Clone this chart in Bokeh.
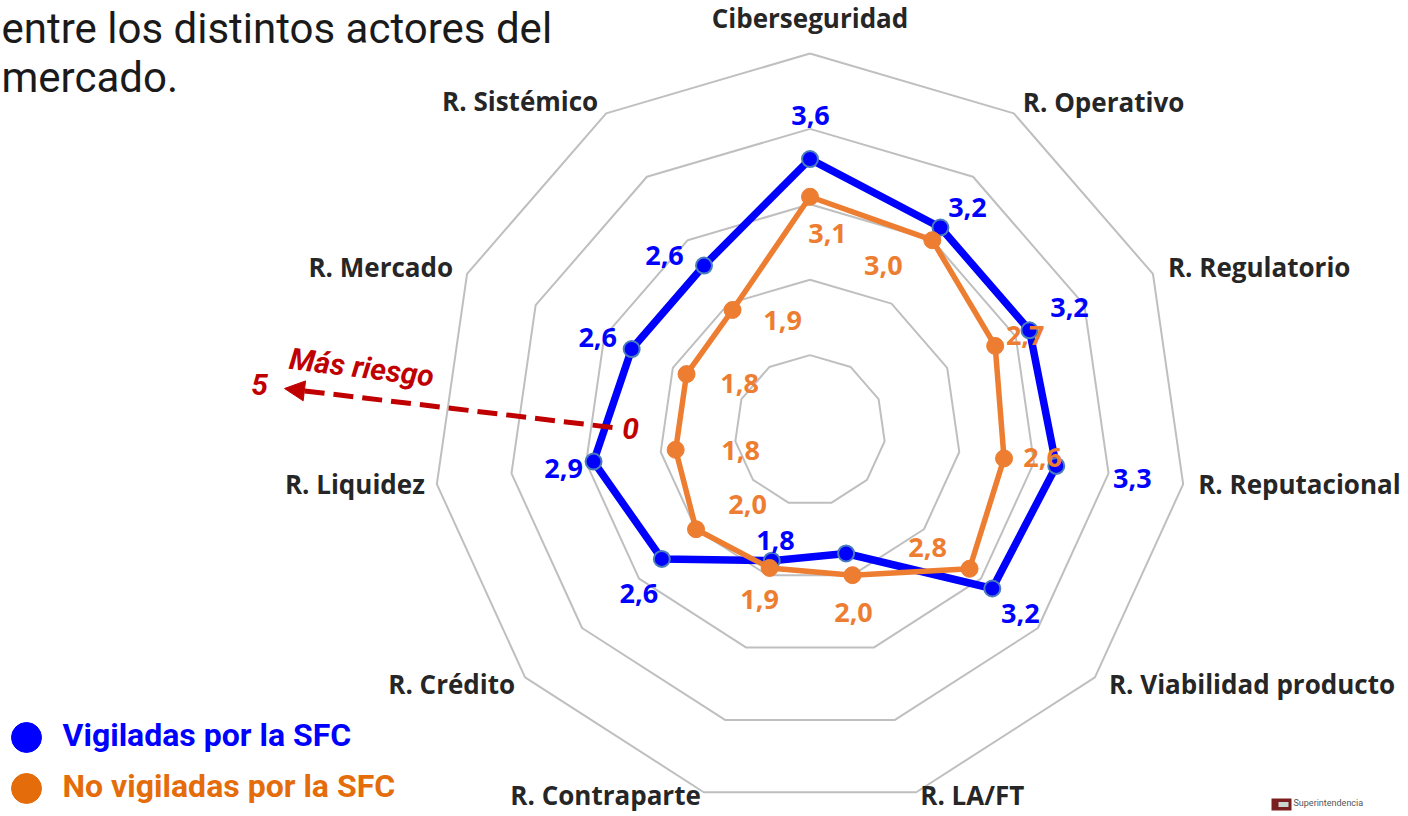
import math
from bokeh.plotting import figure
from bokeh.models import Range1d, ColumnDataSource, Arrow, NormalHead
from bokeh.core.properties import value
from bokeh.embed import file_html
from bokeh.resources import INLINE

# ---------------- data ----------------
categories = ["Ciberseguridad", "R. Operativo", "R. Regulatorio", "R. Reputacional",
              "R. Viabilidad producto", "R. LA/FT", "R. Contraparte", "R. Crédito",
              "R. Liquidez", "R. Mercado", "R. Sistémico"]
vigiladas = [3.6, 3.2, 3.2, 3.3, 3.2, 1.7, 1.8, 2.6, 2.9, 2.6, 2.6]
no_vigiladas = [3.1, 3.0, 2.7, 2.6, 2.8, 2.0, 1.9, 2.0, 1.8, 1.8, 1.9]
vigiladas_label_shown = [True, True, True, True, True, False, True, True, True, True, True]
ring_levels = [1, 2, 3, 4, 5]
series_names = ["Vigiladas por la SFC", "No vigiladas por la SFC"]
axis_min, axis_max = "0", "5"

# ---------------- layout / style ----------------
W, H = 1408, 816
CX, CY = 809.5, 430.0      # page px of radar centre
S = 75.4                   # px per unit
BASE_FIX = 0.37            # baseline compensation (em) for the svg text renderer

def X(px):
    return (px - CX) / S

def Y(py):
    return (CY - py) / S

def YT(py, fs):
    """data y for a text whose visual baseline should sit at page py"""
    return Y(py - BASE_FIX * fs)

BLUE = "#0000FF"
ORANGE = "#ED7D31"
ORANGE_LEG = "#E46C0A"
RED = "#C00000"
GRID = "#BFBFBF"
TXT = "#262626"

n = len(categories)
ang = [2 * math.pi * k / n for k in range(n)]

def pol(vals):
    xs = [v * math.sin(a) for v, a in zip(vals, ang)]
    ys = [v * math.cos(a) for v, a in zip(vals, ang)]
    return xs, ys

fmt = lambda v: f"{v:.1f}".replace(".", ",")

p = figure(width=W, height=H, x_range=Range1d(X(0), X(W)), y_range=Range1d(Y(H), Y(0)),
           output_backend="svg", toolbar_location=None, x_axis_type=None, y_axis_type=None,
           min_border=0, outline_line_color=None, background_fill_color="white",
           border_fill_color="white")
p.grid.visible = False

# grid rings
rx, ry = [], []
for lv in ring_levels:
    xs, ys = pol([lv] * n)
    rx.append(xs + [xs[0]])
    ry.append(ys + [ys[0]])
p.multi_line(rx, ry, line_color=GRID, line_width=2)

# series
bx, by = pol(vigiladas)
ox, oy = pol(no_vigiladas)
p.line(bx + [bx[0]], by + [by[0]], line_color=BLUE, line_width=7.5, line_join="round")
p.scatter(bx, by, size=16, fill_color=BLUE, line_color="#4A7EBB", line_width=2)
p.line(ox + [ox[0]], oy + [oy[0]], line_color=ORANGE, line_width=5.5, line_join="round")
p.scatter(ox, oy, size=17, fill_color=ORANGE, line_color=ORANGE)

# data labels (pixel offsets from the point to the label centre)
vig_off = [(0.5, -43.6), (27, -20), (40, -22), (76, 12.6), (28, 25), (0, 0),
           (3.7, -20), (-23, 34.6), (-30, 7), (-34, -11.6), (-39.5, -10)]
nov_off = [(17.5, 37), (-49, 26), (30, -10), (38.5, -1), (-42, -21), (1, 38),
           (-10, 31.5), (51.5, -24), (65, 0.7), (53, 9.4), (50, 10.6)]
LBL_FS = 27
shift = 0.357 * LBL_FS - BASE_FIX * LBL_FS  # centre -> baseline, compensated

def label_src(xs, ys, vals, offs, mask):
    d = dict(x=[], y=[], t=[])
    for x, y, v, (dx, dy), m in zip(xs, ys, vals, offs, mask):
        if not m:
            continue
        d["x"].append(x + dx / S)
        d["y"].append(y - (dy + shift) / S)
        d["t"].append(fmt(v))
    return ColumnDataSource(d)

p.text("x", "y", text="t", source=label_src(bx, by, vigiladas, vig_off, vigiladas_label_shown),
       text_color=BLUE, text_font=value("Open Sans"), text_font_style="bold",
       text_font_size=f"{LBL_FS}px", text_align="center", text_baseline="alphabetic")
p.text("x", "y", text="t", source=label_src(ox, oy, no_vigiladas, nov_off, [True] * n),
       text_color=ORANGE, text_font=value("Open Sans"), text_font_style="bold",
       text_font_size=f"{LBL_FS}px", text_align="center", text_baseline="alphabetic")

# category labels (offset from outer vertex, to baseline)
CAT_FS = 26
cat_off = [(0, -26, "center"), (9, -2, "left"), (15, 3, "left"), (15, 9, "left"),
           (14, 16, "left"), (4, 12, "left"), (-3, 12, "right"), (-10, 16, "right"),
           (-12, 9, "right"), (-14, 3, "right"), (-8, -3, "right")]
vx, vy = pol([ring_levels[-1]] * n)
for align in ("left", "center", "right"):
    d = dict(x=[], y=[], t=[])
    for k in range(n):
        dx, dy, al = cat_off[k]
        if al != align:
            continue
        d["x"].append(vx[k] + dx / S)
        d["y"].append(vy[k] - (dy - BASE_FIX * CAT_FS) / S)
        d["t"].append(categories[k])
    p.text("x", "y", text="t", source=ColumnDataSource(d), text_color=TXT,
           text_font=value("Open Sans"), text_font_style="bold", text_font_size=f"{CAT_FS}px",
           text_align=align, text_baseline="alphabetic")

# "Más riesgo" annotation
p.add_layout(Arrow(end=NormalHead(size=20, fill_color=RED, line_color=RED),
                   x_start=X(612), y_start=Y(427), x_end=X(284), y_end=Y(388),
                   line_color=RED, line_width=5, line_dash="20 9"))
p.text([X(289)], [YT(369, 30)], text=["Más riesgo"], angle=math.radians(-7), text_color=RED,
       text_font=value("Roboto"), text_font_style="bold italic", text_font_size="30px",
       text_align="left", text_baseline="alphabetic")
p.text([X(259), X(630)], [YT(395, 30), YT(439, 30)], text=[axis_max, axis_min], text_color=RED,
       text_font=value("Roboto"), text_font_style="bold italic", text_font_size="30px",
       text_align="center", text_baseline="alphabetic")

# intro text (slide body)
p.text([X(1), X(1)], [YT(44, 42), YT(93, 42)], text=["entre los distintos actores del", "mercado."],
       text_color="#1A1A1A", text_font=value("Roboto"), text_font_size="42px",
       text_align="left", text_baseline="alphabetic")

# legend
p.scatter([X(26), X(26)], [Y(737), Y(788)], size=30, fill_color=[BLUE, ORANGE_LEG],
          line_color=[BLUE, ORANGE_LEG])
p.text([X(62)], [YT(746, 32)], text=[series_names[0]], text_color=BLUE, text_font=value("Roboto"),
       text_font_style="bold", text_font_size="32px", text_align="left", text_baseline="alphabetic")
p.text([X(62)], [YT(797, 32)], text=[series_names[1]], text_color=ORANGE_LEG, text_font=value("Roboto"),
       text_font_style="bold", text_font_size="32px", text_align="left", text_baseline="alphabetic")

# small logo bottom-right
p.rect([X(1281)], [Y(804)], width=20 / S, height=12 / S, fill_color="#7A1F1F", line_color=None)
p.rect([X(1283)], [Y(804)], width=10 / S, height=5 / S, fill_color="#C9D6CF", line_color=None)
p.text([X(1293)], [YT(806, 9)], text=["Superintendencia"], text_color="#555555",
       text_font=value("Roboto"), text_font_size="9px", text_align="left", text_baseline="alphabetic")

open("out.html", "w").write(file_html(p, INLINE))
